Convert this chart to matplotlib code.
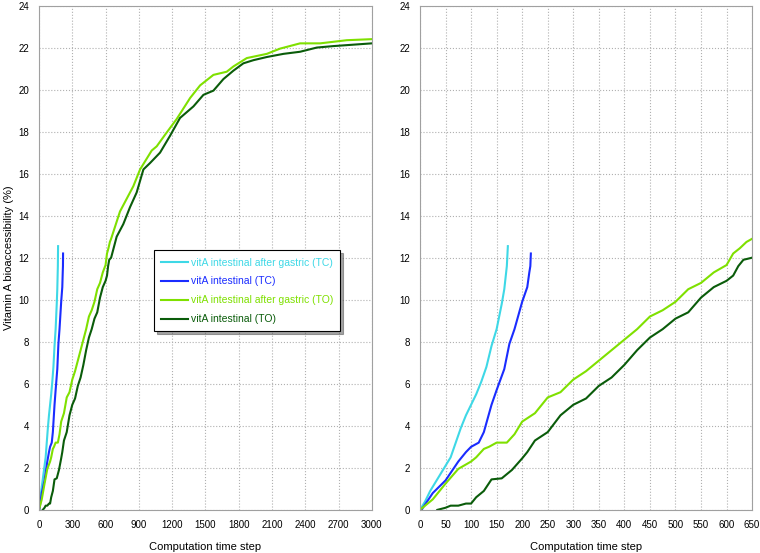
import matplotlib
matplotlib.use("Agg")
import matplotlib.pyplot as plt

plt.rcParams["font.family"] = ["Liberation Sans", "DejaVu Sans"]

# vitA intestinal after gastric (TC)
cyan_x = [0, 10, 20, 30, 40, 50, 60, 70, 80, 90, 100, 110, 120, 130, 140, 150, 160, 165, 170, 172]
cyan_y = [0, 0.4, 0.9, 1.3, 1.7, 2.1, 2.5, 3.2, 3.9, 4.5, 5.0, 5.5, 6.1, 6.8, 7.8, 8.6, 9.8, 10.5, 11.6, 12.55]

# vitA intestinal (TC)
blue_x = [3, 25, 50, 75, 90, 100, 115, 125, 140, 150, 165, 175, 185, 200, 210, 214, 216, 217]
blue_y = [0, 0.8, 1.4, 2.3, 2.75, 3.0, 3.2, 3.7, 5.0, 5.7, 6.7, 7.9, 8.6, 9.9, 10.6, 11.3, 11.6, 12.2]

# vitA intestinal after gastric (TO)
lgreen_x = [0, 25, 50, 75, 100, 110, 125, 135, 150, 170, 185, 200, 225, 250, 275, 300, 325, 350,
            375, 400, 425, 450, 475, 500, 525, 550, 575, 600, 613, 626, 639, 650, 730, 790, 850,
            911, 1016, 1061, 1136, 1241, 1362, 1452, 1572, 1692, 1752, 1873, 2053, 2173, 2353,
            2534, 2774, 3000]
lgreen_y = [0, 0.5, 1.25, 1.95, 2.3, 2.5, 2.9, 3.0, 3.2, 3.2, 3.6, 4.2, 4.6, 5.35, 5.6, 6.2, 6.6, 7.1,
            7.6, 8.1, 8.6, 9.2, 9.5, 9.9, 10.5, 10.8, 11.3, 11.65, 12.2, 12.45, 12.75, 12.9, 14.2, 14.8, 15.4,
            16.2, 17.1, 17.3, 17.85, 18.6, 19.6, 20.2, 20.7, 20.85, 21.1, 21.5, 21.7, 21.95, 22.2,
            22.2, 22.35, 22.4]

# vitA intestinal (TO)
dgreen_x = [34, 50, 60, 75, 90, 100, 110, 125, 140, 160, 170, 180, 200, 210, 225, 250, 275, 300,
            325, 350, 375, 400, 425, 450, 475, 500, 525, 550, 575, 600, 613, 623, 633, 650, 700,
            760, 820, 880, 941, 1000, 1091, 1181, 1271, 1392, 1482, 1572, 1662, 1752, 1842, 1933,
            2053, 2203, 2353, 2504, 2654, 3000]
dgreen_y = [0, 0.1, 0.2, 0.2, 0.3, 0.3, 0.6, 0.9, 1.45, 1.5, 1.7, 1.9, 2.45, 2.75, 3.3, 3.7, 4.5, 5.0,
            5.3, 5.9, 6.3, 6.9, 7.6, 8.2, 8.6, 9.1, 9.4, 10.1, 10.6, 10.9, 11.15, 11.6, 11.9, 12.0, 13.0,
            13.6, 14.4, 15.1, 16.2, 16.5, 17.0, 17.8, 18.65, 19.2, 19.75, 19.95, 20.5, 20.9, 21.25, 21.4,
            21.55, 21.7, 21.8, 22.0, 22.07, 22.2]

labels = ["vitA intestinal after gastric (TC)", "vitA intestinal (TC)",
          "vitA intestinal after gastric (TO)", "vitA intestinal (TO)"]
colors = ["#3ed8e6", "#1a2cff", "#7fe000", "#0a5c0a"]
series = [(cyan_x, cyan_y), (blue_x, blue_y), (lgreen_x, lgreen_y), (dgreen_x, dgreen_y)]

fig = plt.figure(figsize=(7.6, 5.53), dpi=100)
ax1 = fig.add_axes([0.0513, 0.078, 0.438, 0.912])
ax2 = fig.add_axes([0.5526, 0.078, 0.437, 0.912])

for ax, xmax, step in [(ax1, 3000, 300), (ax2, 650, 50)]:
    for (x, y), c, lab in zip(series, colors, labels):
        ax.plot(x, y, color=c, lw=1.5, label=lab)
    ax.set_xlim(0, xmax)
    ax.set_ylim(0, 24)
    ax.set_xticks(range(0, xmax + 1, step))
    ax.set_yticks(range(0, 25, 2))
    ax.grid(True, linestyle=":", color="#b0b0b0", lw=0.8)
    ax.tick_params(length=0, labelsize=7, pad=7)
    for s in ax.spines.values():
        s.set_color("#a0a0a0")
        s.set_linewidth(0.8)
    ax.set_xlabel("Computation time step", fontsize=8, labelpad=9)

ax1.set_ylabel("Vitamin A bioaccessibility (%)", fontsize=8, labelpad=3)

leg = ax1.legend(loc="upper left", bbox_to_anchor=(0.33, 0.525), fontsize=7.5,
                 frameon=True, fancybox=False, shadow=True, borderpad=0.7,
                 labelspacing=0.85, handlelength=2.6, handletextpad=0.2)
leg.get_frame().set_edgecolor("black")
leg.get_frame().set_linewidth(0.8)
for t, c in zip(leg.get_texts(), colors):
    t.set_color(c)

fig.savefig("out.png", dpi=100)
